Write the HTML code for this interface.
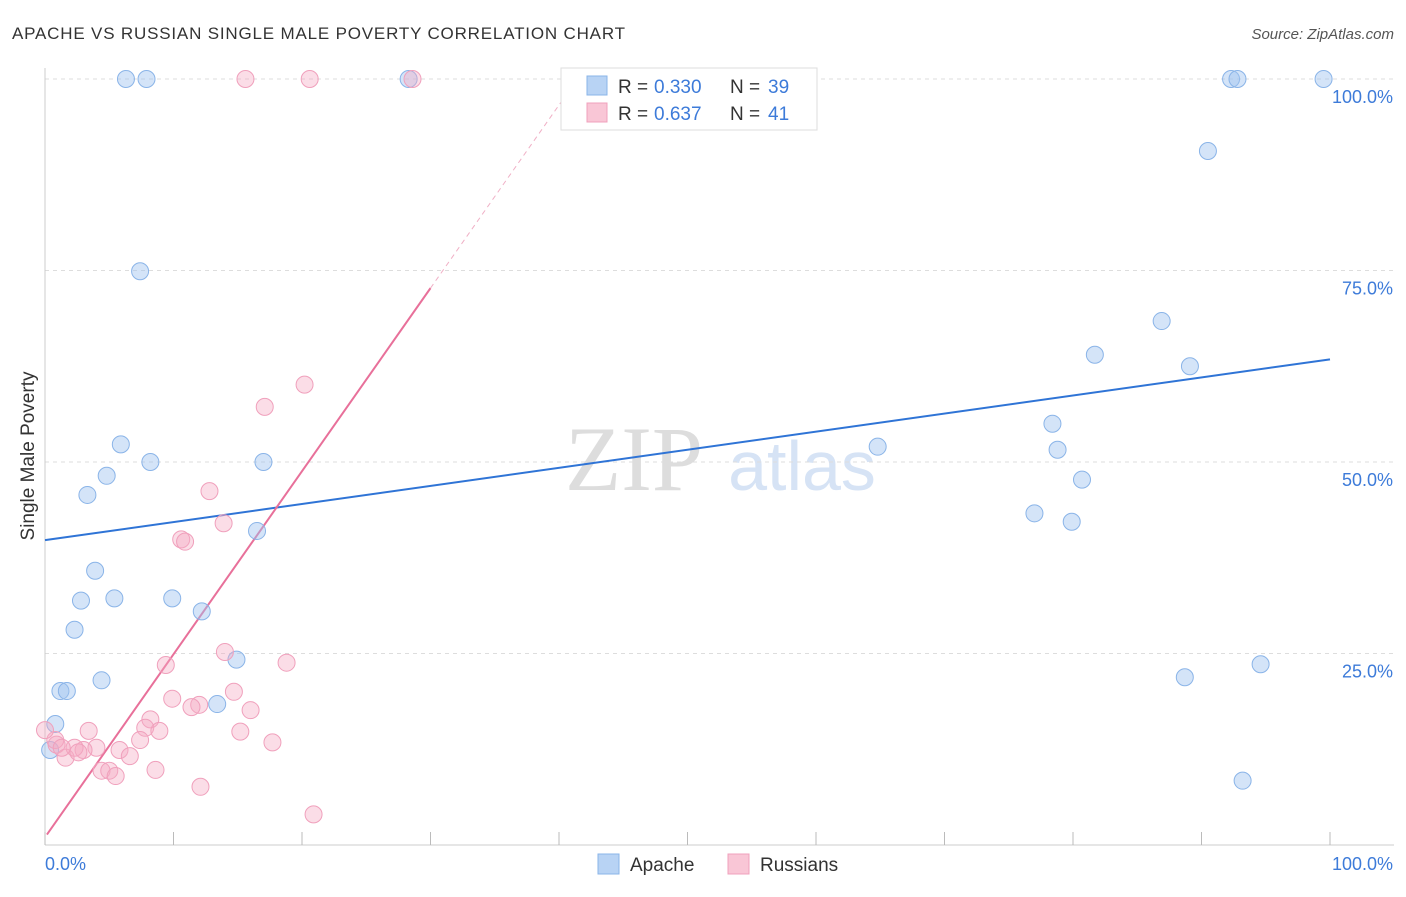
<!DOCTYPE html>
<html><head><meta charset="utf-8"><style>
body{margin:0;background:#fff;font-family:"Liberation Sans",sans-serif;}
svg text{font-family:"Liberation Sans",sans-serif;}
</style></head><body>
<svg width="1406" height="892" xmlns="http://www.w3.org/2000/svg">
<text x="12" y="39" font-size="17" fill="#333" textLength="613">APACHE VS RUSSIAN SINGLE MALE POVERTY CORRELATION CHART</text>
<text x="1394" y="39" font-size="15" fill="#555" text-anchor="end" font-style="italic">Source: ZipAtlas.com</text>
<g>
<text x="634" y="490" font-size="92" fill="#ddd" text-anchor="middle" font-family="Liberation Serif" style="font-family:'Liberation Serif',serif">ZIP</text>
<text x="802" y="490" font-size="70" fill="#d6e3f5" text-anchor="middle">atlas</text>
</g>
<g id="grid"></g>
<g id="axes"></g>
<g id="lines"></g>
<g id="pts"></g>
<text transform="translate(34,456) rotate(-90)" font-size="19" fill="#333" text-anchor="middle">Single Male Poverty</text>
<g>
<rect x="561" y="68" width="256" height="62" fill="#fff" stroke="#ddd"/>
<rect x="587" y="76" width="20" height="19" fill="#b8d3f4" stroke="#8ab4e8"/>
<text x="618" y="93" font-size="19" fill="#333">R =</text>
<text x="654" y="93" font-size="19" fill="#3d7bd9">0.330</text>
<text x="730" y="93" font-size="19" fill="#333">N =</text>
<text x="768" y="93" font-size="19" fill="#3d7bd9">39</text>
<rect x="587" y="103" width="20" height="19" fill="#f9c6d6" stroke="#f0a0bc"/>
<text x="618" y="120" font-size="19" fill="#333">R =</text>
<text x="654" y="120" font-size="19" fill="#3d7bd9">0.637</text>
<text x="730" y="120" font-size="19" fill="#333">N =</text>
<text x="768" y="120" font-size="19" fill="#3d7bd9">41</text>
</g>
<g>
<rect x="598" y="854" width="21" height="20" fill="#b8d3f4" stroke="#8ab4e8"/>
<text x="630" y="871" font-size="19" fill="#333">Apache</text>
<rect x="728" y="854" width="21" height="20" fill="#f9c6d6" stroke="#f0a0bc"/>
<text x="760" y="871" font-size="19" fill="#333">Russians</text>
</g>
</svg>
<script>
const yTicks=[25,50,75,100];
const yTickLabels=["25.0%","50.0%","75.0%","100.0%"];
const apacheX=[6.3,7.9,28.3,92.3,92.8,99.5,90.5,7.4,86.9,81.7,89.1,5.9,8.2,17.0,4.8,3.3,64.8,78.4,78.8,80.7,77.0,79.9,16.5,3.9,2.8,5.4,9.9,12.2,2.3,14.9,1.2,1.7,4.4,13.4,88.7,94.6,93.2,0.8,0.4];
const apacheY=[100,100,100,100,100,100,90.6,74.9,68.4,64.0,62.5,52.3,50.0,50.0,48.2,45.7,52.0,55.0,51.6,47.7,43.3,42.2,41.0,35.8,31.9,32.2,32.2,30.5,28.1,24.2,20.1,20.1,21.5,18.4,21.9,23.6,8.4,15.8,12.4];
const rusX=[15.6,20.6,28.6,20.2,17.1,12.8,13.9,10.6,10.9,14.0,9.4,18.8,14.7,9.9,12.0,11.4,16.0,8.2,3.4,7.8,8.9,7.4,4.0,5.8,3.0,6.6,0.9,1.6,2.3,2.6,4.4,5.0,5.5,8.6,15.2,17.7,12.1,20.9,0.8,1.3,0];
const rusY=[100,100,100,60.1,57.2,46.2,42.0,39.9,39.6,25.2,23.5,23.8,20.0,19.1,18.3,18.0,17.6,16.4,14.9,15.3,14.9,13.7,12.7,12.4,12.4,11.6,13.1,11.4,12.7,12.1,9.7,9.7,9.0,9.8,14.8,13.4,7.6,4.0,13.7,12.7,15.0];
const apacheLine=[39.8,63.4];
const rusLine=[1.0,2.39];
const X=v=>45+v*12.85, Y=v=>845-v*7.66;
const NS="http://www.w3.org/2000/svg";
function mk(t,a,p){const e=document.createElementNS(NS,t);for(const k in a)e.setAttribute(k,a[k]);p.appendChild(e);return e;}
const grid=document.getElementById('grid');
yTicks.forEach((t,i)=>{
 const l=mk('line',{x1:45,x2:1394,y1:Y(t),y2:Y(t),stroke:'#ddd','stroke-dasharray':'4,4'},grid);
 
 
 const tx=mk('text',{x:1393,y:Y(t)+24,'font-size':18,fill:'#3d7bd9','text-anchor':'end'},grid);
 tx.textContent=yTickLabels[i];
 
 
});
const ax=document.getElementById('axes');
const xl=mk('line',{x1:45,x2:1394,y1:845,y2:845,stroke:'#ccc'},ax);


const yl=mk('line',{x1:45,x2:45,y1:68,y2:845,stroke:'#ccc'},ax);


for(let i=0;i<=10;i++){const t=mk('line',{x1:X(i*10),x2:X(i*10),y1:832,y2:845,stroke:'#bbb'},ax);
 
 }
const x0=mk('text',{x:45,y:870,'font-size':18,fill:'#3d7bd9'},ax);x0.textContent='0.0%';


const x1=mk('text',{x:1393,y:870,'font-size':18,fill:'#3d7bd9','text-anchor':'end'},ax);x1.textContent='100.0%';


const pts=document.getElementById('pts');
apacheX.forEach((x,i)=>{const c=mk('circle',{cx:X(x),cy:Y(apacheY[i]),r:8.5,fill:'rgba(160,196,240,0.45)',stroke:'#8ab4e8','stroke-width':1},pts);
 
 });
rusX.forEach((x,i)=>{const c=mk('circle',{cx:X(x),cy:Y(rusY[i]),r:8.5,fill:'rgba(244,170,195,0.4)',stroke:'#f0a0bc','stroke-width':1},pts);
 
 });
const ln=document.getElementById('lines');
const bl=mk('line',{x1:X(0),y1:Y(apacheLine[0]),x2:X(100),y2:Y(apacheLine[1]),stroke:'#2f74d6','stroke-width':2},ln);


const f=x=>rusLine[0]+rusLine[1]*x;
const pl=mk('line',{x1:X(0.15),y1:Y(f(0.15)),x2:X(30),y2:Y(f(30)),stroke:'#e8709a','stroke-width':2},ln);


const xe=(100-rusLine[0])/rusLine[1];
const pd=mk('line',{x1:X(30),y1:Y(f(30)),x2:X(xe),y2:Y(100),stroke:'#f0b0c6','stroke-width':1,'stroke-dasharray':'5,4'},ln);


</script>
</body></html>
